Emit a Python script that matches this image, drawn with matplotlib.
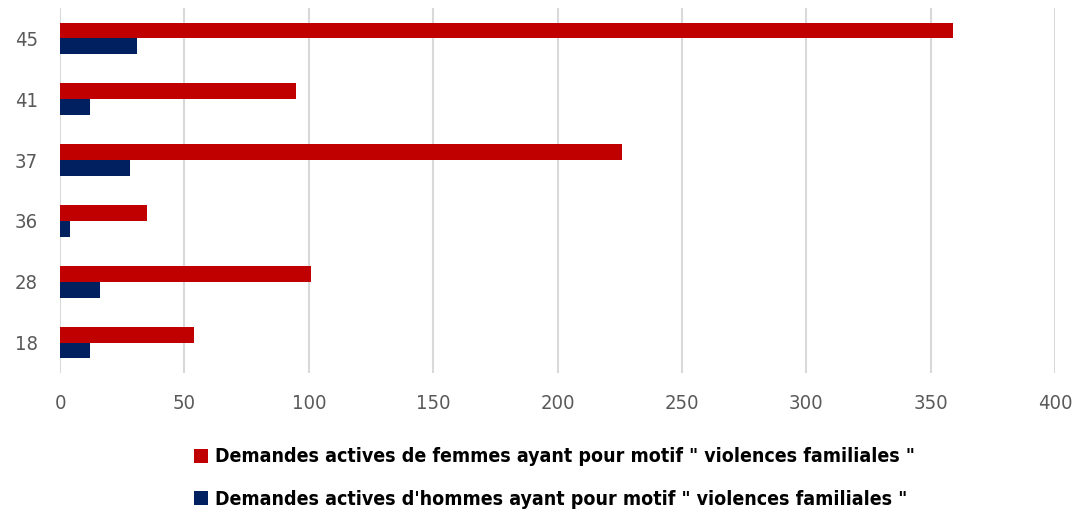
import numpy as np
import matplotlib.pyplot as plt

categories = ['18', '28', '36', '37', '41', '45']
femmes = [54, 101, 35, 226, 95, 359]
hommes = [12, 16, 4, 28, 12, 31]
label_femmes = 'Demandes actives de femmes ayant pour motif " violences familiales "'
label_hommes = "Demandes actives d'hommes ayant pour motif \" violences familiales \""

fig = plt.figure(figsize=(10.76, 5.14), dpi=100)
ax = fig.add_axes([60 / 1076, 1 - 373 / 514, 995 / 1076, 365 / 514])

y = np.arange(len(categories))
h = 0.26
ax.barh(y + h / 2, femmes, height=h, color='#C00000', label=label_femmes, zorder=3)
ax.barh(y - h / 2, hommes, height=h, color='#002060', label=label_hommes, zorder=3)

ax.set_xlim(0, 400)
ax.set_ylim(-0.5, len(categories) - 0.5)
ax.set_xticks(range(0, 401, 50))
ax.set_yticks(y)
ax.set_yticklabels(categories)
ax.grid(axis='x', color='#D9D9D9', linewidth=1.5, zorder=0)
for s in ax.spines.values():
    s.set_visible(False)
ax.tick_params(axis='both', length=0, labelsize=14.5, colors='#595959')
ax.tick_params(axis='x', pad=15)
ax.tick_params(axis='y', pad=16)
for t in ax.get_xticklabels() + ax.get_yticklabels():
    t.set_stretch('condensed')

leg = fig.legend(loc='upper center', bbox_to_anchor=(0.515, 1 - 430 / 514), ncol=1,
                 frameon=False, handlelength=0.75, handleheight=0.75, handletextpad=0.35,
                 labelspacing=1.2,
                 prop={'family': 'DejaVu Sans', 'stretch': 'condensed', 'weight': 'bold', 'size': 14})

fig.savefig('out.png', dpi=100)
